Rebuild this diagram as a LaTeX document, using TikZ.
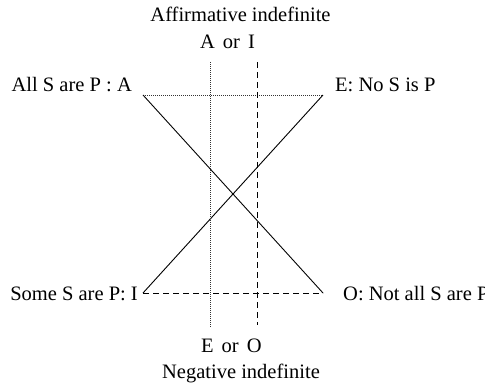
\documentclass[tikz,border=0pt]{standalone}
\usepackage{fontspec}
\setmainfont{Liberation Serif}
\begin{document}
\begin{tikzpicture}[x=1pt,y=-1pt,
  lbl/.style={inner sep=0pt,font=\fontsize{20.5}{24}\selectfont},
  solidline/.style={line width=0.9pt,black},
  dotline/.style={line width=0.8pt,dash pattern=on 1pt off 1pt,black!80},
  dashline/.style={line width=0.9pt,dash pattern=on 6pt off 4pt,black}]
\useasboundingbox (0,0) rectangle (485,384);
% corners
\coordinate (tl) at (143,95);
\coordinate (tr) at (323,95);
\coordinate (bl) at (143,293);
\coordinate (br) at (323,293);
% vertical line ends
\coordinate (vdt) at (210,62);
\coordinate (vdb) at (210,328);
\coordinate (vat) at (257,62);
\coordinate (vab) at (257,325);
% labels
\node[lbl,anchor=base] (aff) at (240.5,21) {Affirmative indefinite};
\node[lbl,anchor=base west] (aori) at (200,48) {A\hspace{8pt}or\hspace{8pt}I};
\node[lbl,anchor=base east] (lA) at (132,91) {All S are P : A};
\node[lbl,anchor=base west] (lE) at (335,91) {E: No S is P};
\node[lbl,anchor=base east] (lI) at (138,300) {Some S are P: I};
\node[lbl,anchor=base west] (lO) at (343,300) {O: Not all S are P};
\node[lbl,anchor=base west] (eoro) at (201,352) {E\hspace{8pt}or\hspace{8pt}O};
\node[lbl,anchor=base] (neg) at (241,378) {Negative indefinite};
% lines
\draw[dotline] (tl) -- (tr);
\draw[dashline] (bl) -- (br);
\draw[solidline] (tl) -- (br);
\draw[solidline] (bl) -- (tr);
\draw[dotline] (vdt) -- (vdb);
\draw[dashline] (vat) -- (vab);
\end{tikzpicture}
\end{document}
